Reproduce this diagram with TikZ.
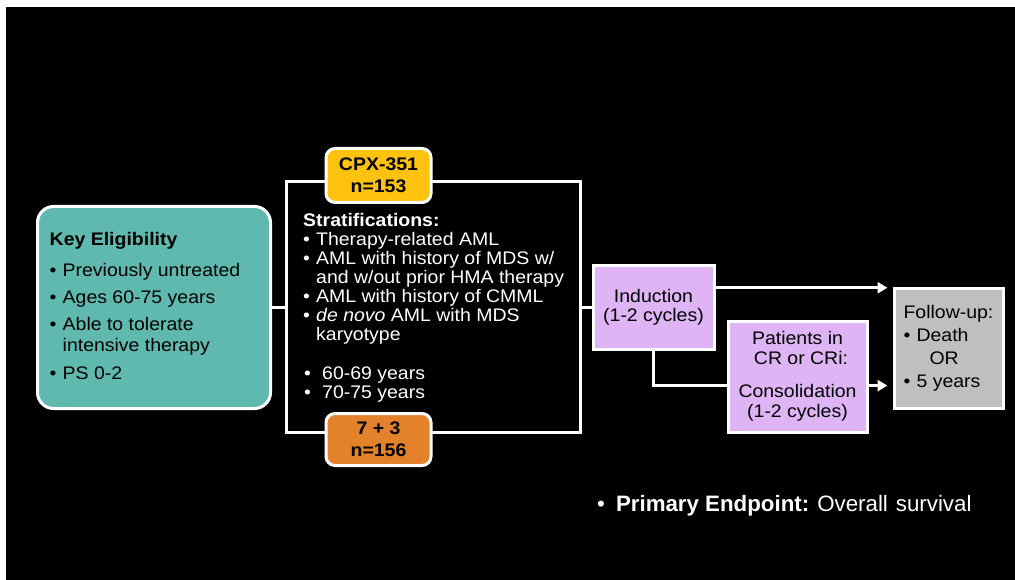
\documentclass[tikz,border=0pt]{standalone}
\usepackage{fontspec}
\setmainfont{Liberation Sans}[FakeStretch=1.07]
\newfontfamily\plainsans{Liberation Sans}
\usetikzlibrary{arrows.meta,calc}

\definecolor{eligfill}{HTML}{5FB9AF}
\definecolor{cpxfill}{HTML}{FFC20E}
\definecolor{stdfill}{HTML}{E4812B}
\definecolor{phasefill}{HTML}{DFB4F4}
\definecolor{fupfill}{HTML}{BFBFBF}

\newcommand\setfs[2]{\fontsize{#1}{#2}\selectfont}
\newcommand\itm[1]{\makebox[#1][l]{•}}

\tikzset{
  wline/.style={draw=white, line width=3pt},
  arr/.style={wline, -{Triangle[length=10pt,width=11pt]}, shorten >=5pt},
  panel/.style={draw=white, line width=3pt, inner sep=0pt, text=black},
  armtag/.style={panel, rounded corners=9pt, minimum width=105pt,
    align=center, font=\bfseries\setfs{18.2}{22}},
  txt/.style={inner sep=0pt, text=white, align=left}
}

\begin{document}
\begin{tikzpicture}[x=1pt, y=-1pt]
  % page and slide background
  \fill[white] (0,0) rectangle (1015,580);
  \fill[black] (6,7) rectangle (1015,580);
  \useasboundingbox (0,0) rectangle (1015,580);

  % eligibility panel (text anchored on the baseline of its last line)
  \node[panel, fill=eligfill, rounded corners=16pt,
        minimum width=233pt, minimum height=202pt] (elig) at (154,307.5) {};
  \node[txt, text=black, anchor=base west, font=\setfs{18.2}{21.7}] (eligtxt) at (49.5,379)
    {\textbf{Key Eligibility}\\[9.3pt]
     \itm{13pt}Previously untreated\\[5.3pt]
     \itm{13pt}Ages 60-75 years\\[4.5pt]
     \itm{13pt}Able to tolerate\\
     \hspace*{13pt}intensive therapy\\[5.5pt]
     \itm{13pt}PS 0-2};

  % randomisation frame with stratification factors
  \node[panel, minimum width=294pt, minimum height=250pt] (arms) at (433,307) {};
  \node[txt, anchor=base west, font=\setfs{18.2}{19}] (strat) at (303,398.3)
    {\textbf{Stratifications:}\\[-0.5pt]
     \itm{13pt}Therapy-related AML\\
     \itm{13pt}AML with history of MDS w/\\
     \hspace*{13pt}and w/out prior HMA therapy\\
     \itm{13pt}AML with history of CMML\\
     \itm{13pt}\textit{de novo} AML with MDS\\
     \hspace*{13pt}karyotype\\[20.3pt]
     \hspace*{1pt}\itm{18pt}60-69 years\\
     \hspace*{1pt}\itm{18pt}70-75 years};

  % treatment arms
  \node[armtag, fill=cpxfill, minimum height=54pt] (cpx) at (378.5,175.5) {CPX-351\\n=153};
  \node[armtag, fill=stdfill, minimum height=52pt] (std) at (378.5,439.5) {7 + 3\\n=156};

  % treatment phases and follow-up
  \node[panel, fill=phasefill, minimum width=121pt, minimum height=83pt,
        align=center, font=\setfs{18.2}{19.5}] (ind) at (653.5,307.5)
    {Induction\\(1-2 cycles)};
  \node[panel, fill=phasefill, minimum width=139pt, minimum height=111pt,
        align=center, font=\setfs{18.2}{20.5}] (cons) at (797.5,376.5)
    {Patients in\\\hspace*{7pt}CR or CRi:\\[12pt]Consolidation\\(1-2 cycles)};
  \node[panel, fill=fupfill, minimum width=109pt, minimum height=120pt,
        align=left, font=\setfs{18.2}{23}] (fol) at (948.5,348)
    {Follow-up:\\\itm{13pt}Death\\\hspace*{26pt}OR\\\itm{13pt}5 years};

  % connectors
  \draw[wline] (elig.east) -- (elig.east -| arms.west);
  \draw[wline] (arms.east) -- (arms.east -| ind.west);
  \coordinate (i1) at ($(ind.north east)!0.27!(ind.south east)$);
  \draw[arr] (i1) -- (i1 -| fol.west);
  \coordinate (c1) at ($(cons.north west)!0.58!(cons.south west)$);
  \draw[wline] (ind.south) |- (c1);
  \coordinate (c2) at (c1 -| cons.east);
  \draw[arr] (c2) -- (c2 -| fol.west);

  % primary endpoint
  \node[txt, anchor=base west, font=\plainsans\setfs{22.3}{24}] (endpt) at (597,511.7)
    {•\hspace{11pt}\textbf{Primary Endpoint:}\hspace{8pt}Overall\hspace{8pt}survival};
\end{tikzpicture}
\end{document}
